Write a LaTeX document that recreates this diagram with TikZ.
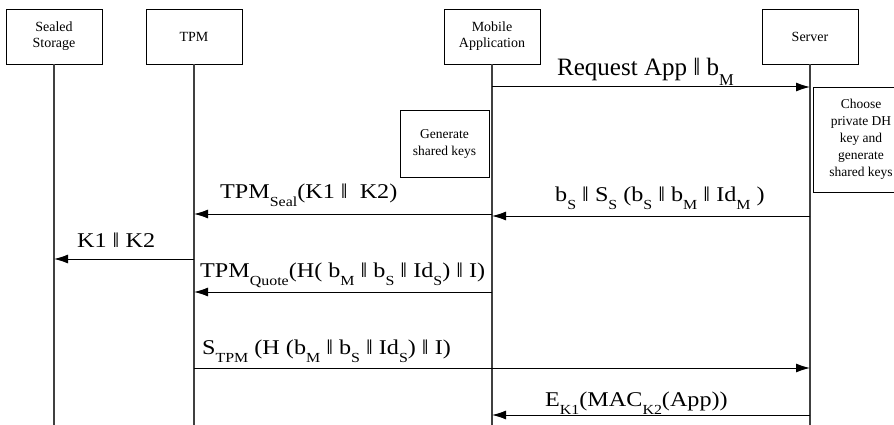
\documentclass[tikz,border=0pt]{standalone}
\usepackage{fontspec}
\setmainfont{Liberation Serif}
\newfontfamily\widefont[FakeStretch=1.15]{Liberation Serif}
\usetikzlibrary{arrows.meta}
\newcommand{\subs}[1]{\raisebox{-0.4em}{\scalebox{0.66}{#1}}}

\begin{document}
\begin{tikzpicture}[x=1pt,y=-1pt,
    party/.style ={draw, line width=0.8pt, minimum width=96pt, minimum height=55pt, align=center, inner sep=0pt, font=\fontsize{14}{16}\selectfont},
    note/.style ={draw, line width=0.8pt, align=center, inner sep=0pt, font=\fontsize{13.5}{17}\selectfont},
    life/.style ={line width=1.3pt, draw=black!75},
    msg/.style ={line width=1pt, -{Latex[length=14pt,width=9pt]}},
    lbl/.style ={anchor=base west, inner sep=0pt, font=\widefont\fontsize{21}{23}\selectfont}]
   \useasboundingbox (0,0) rectangle (894,425);
   % participants
   \node[party] (SS)  at (54,36.5)  {Sealed\\Storage};
   \node[party] (TPM) at (194,36.5) {TPM};
   \node[party] (MA)  at (492,36.5) {Mobile\\Application};
   \node[party] (Srv) at (810,36.5) {Server};
   \coordinate (SSend)  at (54,430);
   \coordinate (TPMend) at (194,430);
   \coordinate (MAend)  at (492,430);
   \coordinate (Srvend) at (810,430);
   \draw[life] (SS) -- (SSend);
   \draw[life] (TPM) -- (TPMend);
   \draw[life] (MA) -- (MAend);
   \draw[life] (Srv) -- (Srvend);
   % local steps
   \node[note, minimum width=89pt, minimum height=67pt] (gen) at (444.5,143.5) {Generate\\shared keys};
   \node[note, minimum width=96pt, minimum height=105pt] (dh) at (861,139.5) {Choose\\private DH\\key and\\generate\\shared keys};
   % message rows
   \coordinate (m1) at (0,87);
   \coordinate (m2) at (0,216);
   \coordinate (m3) at (0,214);
   \coordinate (m4) at (0,259);
   \coordinate (m5) at (0,292);
   \coordinate (m6) at (0,368);
   \coordinate (m7) at (0,415);
   \draw[msg] (MA |- m1) -- (Srv |- m1);
   \draw[msg] (Srv |- m2) -- (MA |- m2);
   \draw[msg] (MA |- m3) -- (TPM |- m3);
   \draw[msg] (TPM |- m4) -- (SS |- m4);
   \draw[msg] (MA |- m5) -- (TPM |- m5);
   \draw[msg] (TPM |- m6) -- (Srv |- m6);
   \draw[msg] (Srv |- m7) -- (MA |- m7);
   % labels
   \node[lbl, font=\fontsize{25}{27}\selectfont] (l1) at (557,76) {Request App ‖ b\subs{M}};
   \node[lbl] (l2) at (555,201) {b\subs{S} ‖ S\subs{S} (b\subs{S} ‖ b\subs{M} ‖ Id\subs{M} )};
   \node[lbl] (l3) at (220,198) {TPM\subs{Seal}(K1 ‖~ K2)};
   \node[lbl] (l4) at (77,247) {K1 ‖ K2};
   \node[lbl] (l5) at (200,277) {TPM\subs{Quote}(H( b\subs{M} ‖ b\subs{S} ‖ Id\subs{S}) ‖ I)};
   \node[lbl] (l6) at (202,354) {S\subs{TPM} (H (b\subs{M} ‖ b\subs{S} ‖ Id\subs{S}) ‖ I)};
   \node[lbl] (l7) at (545,406) {E\subs{K1}(MAC\subs{K2}(App))};
 \end{tikzpicture}
\end{document}
